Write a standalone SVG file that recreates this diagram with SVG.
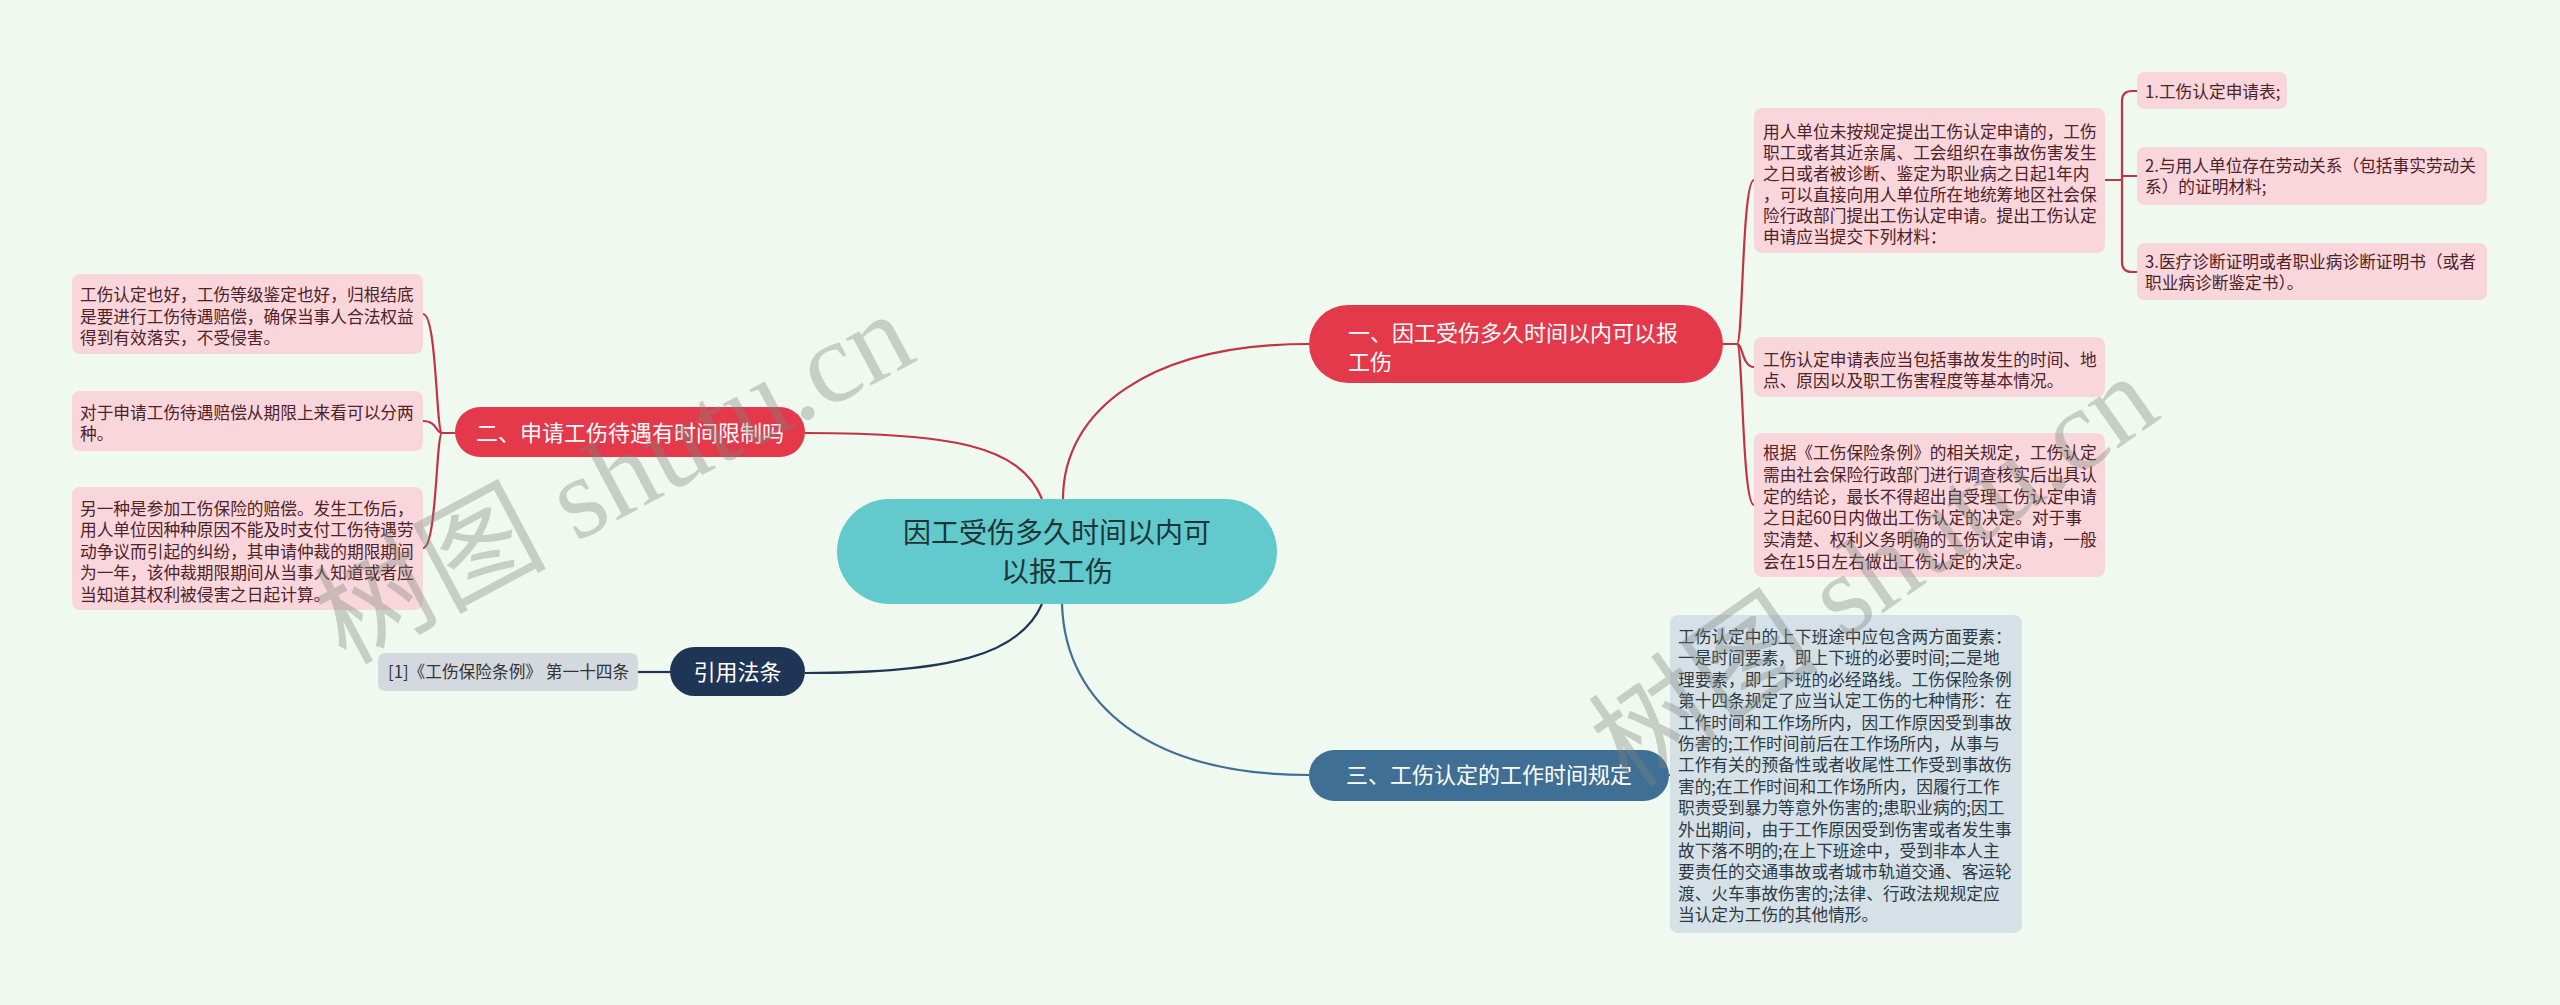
<svg xmlns="http://www.w3.org/2000/svg" width="2560" height="1005" viewBox="0 0 2560 1005">
<style>
text{font-family:"Noto Sans CJK SC","Noto Sans",sans-serif}
.leafP{fill:#f8d6dc}
.leafG{fill:#d6e0e7}
.leafR{fill:#d4d9e0}
.tP{font-size:16.7px;fill:#4e2227}
.tG{font-size:16.7px;fill:#2c3a44}
.tR{font-size:16.7px;fill:#333}
.nodeRed{fill:#e4394a}
.tN{font-size:22px;fill:#fff}
.cRed{fill:none;stroke:#c23443;stroke-width:2.2}
.cNavy{fill:none;stroke:#1f3556;stroke-width:2.2}
.cBlue{fill:none;stroke:#3f6f94;stroke-width:2.2}
.wm{font-family:"Liberation Serif","Noto Sans CJK SC",serif;font-size:116px;fill:#7d857d;opacity:0.36}
</style>
<rect width="2560" height="1005" fill="#f0f9ef"/>
<g id="connectors">
<path class="cRed" d="M1063,499 C1063,410 1150,344 1309,344"/>
<path class="cRed" d="M1042,499 C1020,445 950,433 805,433"/>
<path class="cNavy" d="M1042,604 C1020,655 950,673 805,673"/>
<path class="cBlue" d="M1062,604 C1065,705 1150,775 1309,775"/>
<path class="cRed" d="M1723,344 L1737,344 M1737,344 C1743,344 1742,180 1754,180 M1737,344 C1743,344 1742,367 1754,367 M1737,344 C1743,344 1742,505 1754,505"/>
<path class="cRed" d="M2105,180 L2122,180 M2122,180 V101 Q2122,91 2132,91 H2137 M2122,176 H2137 M2122,180 V262 Q2122,272 2132,272 H2137"/>
<path class="cRed" d="M455,433 L442,433 M442,433 C436,433 437,314 423,314 M442,433 C436,433 437,421 423,421 M442,433 C436,433 437,548 423,548"/>
<path class="cNavy" d="M638,672 L670,672"/>
<path class="cBlue" d="M1669,775 L1670,775"/>
</g>
<g id="central">
<rect x="837" y="499" width="440" height="105" rx="52.5" fill="#62c9cd"/>
<text text-anchor="middle" font-size="28" fill="#1d3535"><tspan x="1057" y="543">因工受伤多久时间以内可</tspan><tspan x="1057" y="582">以报工伤</tspan></text>
</g>
<g id="node1">
<rect class="nodeRed" x="1309" y="305" width="414" height="78" rx="39"/>
<text class="tN"><tspan x="1348" y="341">一、因工受伤多久时间以内可以报</tspan><tspan x="1348" y="370">工伤</tspan></text>
</g>
<g id="leaf1a">
<rect class="leafP" x="1754" y="108" width="351" height="145" rx="8"/>
<text class="tP"><tspan x="1763" y="138">用人单位未按规定提出工伤认定申请的，工伤</tspan><tspan x="1763" y="159">职工或者其近亲属、工会组织在事故伤害发生</tspan><tspan x="1763" y="180">之日或者被诊断、鉴定为职业病之日起1年内</tspan><tspan x="1763" y="201">，可以直接向用人单位所在地统筹地区社会保</tspan><tspan x="1763" y="222">险行政部门提出工伤认定申请。提出工伤认定</tspan><tspan x="1763" y="243">申请应当提交下列材料：</tspan></text>
</g>
<g id="leaf1a1">
<rect class="leafP" x="2137" y="72" width="150" height="37" rx="7"/>
<text class="tP" x="2145" y="98">1.工伤认定申请表;</text>
</g>
<g id="leaf1a2">
<rect class="leafP" x="2137" y="147" width="350" height="58" rx="7"/>
<text class="tP"><tspan x="2145" y="172">2.与用人单位存在劳动关系（包括事实劳动关</tspan><tspan x="2145" y="193">系）的证明材料;</tspan></text>
</g>
<g id="leaf1a3">
<rect class="leafP" x="2137" y="243" width="350" height="57" rx="7"/>
<text class="tP"><tspan x="2145" y="268">3.医疗诊断证明或者职业病诊断证明书（或者</tspan><tspan x="2145" y="289">职业病诊断鉴定书）。</tspan></text>
</g>
<g id="leaf1b">
<rect class="leafP" x="1754" y="337" width="351" height="60" rx="8"/>
<text class="tP"><tspan x="1763" y="366">工伤认定申请表应当包括事故发生的时间、地</tspan><tspan x="1763" y="387">点、原因以及职工伤害程度等基本情况。</tspan></text>
</g>
<g id="leaf1c">
<rect class="leafP" x="1754" y="433" width="351" height="144" rx="8"/>
<text class="tP"><tspan x="1763" y="459">根据《工伤保险条例》的相关规定，工伤认定</tspan><tspan x="1763" y="481">需由社会保险行政部门进行调查核实后出具认</tspan><tspan x="1763" y="503">定的结论，最长不得超出自受理工伤认定申请</tspan><tspan x="1763" y="524">之日起60日内做出工伤认定的决定。对于事</tspan><tspan x="1763" y="546">实清楚、权利义务明确的工伤认定申请，一般</tspan><tspan x="1763" y="568">会在15日左右做出工伤认定的决定。</tspan></text>
</g>
<g id="node2">
<rect class="nodeRed" x="455" y="407" width="350" height="50" rx="25"/>
<text class="tN" x="630" y="441" text-anchor="middle">二、申请工伤待遇有时间限制吗</text>
</g>
<g id="leaf2a">
<rect class="leafP" x="72" y="274" width="351" height="80" rx="8"/>
<text class="tP"><tspan x="80" y="301">工伤认定也好，工伤等级鉴定也好，归根结底</tspan><tspan x="80" y="323">是要进行工伤待遇赔偿，确保当事人合法权益</tspan><tspan x="80" y="344">得到有效落实，不受侵害。</tspan></text>
</g>
<g id="leaf2b">
<rect class="leafP" x="72" y="391" width="351" height="60" rx="8"/>
<text class="tP"><tspan x="80" y="419">对于申请工伤待遇赔偿从期限上来看可以分两</tspan><tspan x="80" y="440">种。</tspan></text>
</g>
<g id="leaf2c">
<rect class="leafP" x="72" y="487" width="351" height="123" rx="8"/>
<text class="tP"><tspan x="80" y="515">另一种是参加工伤保险的赔偿。发生工伤后，</tspan><tspan x="80" y="536">用人单位因种种原因不能及时支付工伤待遇劳</tspan><tspan x="80" y="558">动争议而引起的纠纷，其申请仲裁的期限期间</tspan><tspan x="80" y="579">为一年，该仲裁期限期间从当事人知道或者应</tspan><tspan x="80" y="601">当知道其权利被侵害之日起计算。</tspan></text>
</g>
<g id="node4">
<rect x="670" y="647" width="135" height="49" rx="24.5" fill="#1f3556"/>
<text class="tN" x="737.5" y="680" text-anchor="middle">引用法条</text>
</g>
<g id="leaf4">
<rect class="leafR" x="378" y="653" width="260" height="38" rx="7"/>
<text class="tR" x="388" y="678">[1]《工伤保险条例》 第一十四条</text>
</g>
<g id="node3">
<rect x="1309" y="750" width="360" height="51" rx="25.5" fill="#3f6f94"/>
<text class="tN" x="1489" y="783" text-anchor="middle">三、工伤认定的工作时间规定</text>
</g>
<g id="leaf3">
<rect class="leafG" x="1670" y="615" width="352" height="318" rx="8"/>
<text class="tG"><tspan x="1678" y="643">工伤认定中的上下班途中应包含两方面要素：</tspan><tspan x="1678" y="664.4">一是时间要素，即上下班的必要时间;二是地</tspan><tspan x="1678" y="685.8">理要素，即上下班的必经路线。工伤保险条例</tspan><tspan x="1678" y="707.2">第十四条规定了应当认定工伤的七种情形：在</tspan><tspan x="1678" y="728.6">工作时间和工作场所内，因工作原因受到事故</tspan><tspan x="1678" y="750">伤害的;工作时间前后在工作场所内，从事与</tspan><tspan x="1678" y="771.4">工作有关的预备性或者收尾性工作受到事故伤</tspan><tspan x="1678" y="792.8">害的;在工作时间和工作场所内，因履行工作</tspan><tspan x="1678" y="814.2">职责受到暴力等意外伤害的;患职业病的;因工</tspan><tspan x="1678" y="835.6">外出期间，由于工作原因受到伤害或者发生事</tspan><tspan x="1678" y="857">故下落不明的;在上下班途中，受到非本人主</tspan><tspan x="1678" y="878.4">要责任的交通事故或者城市轨道交通、客运轮</tspan><tspan x="1678" y="899.8">渡、火车事故伤害的;法律、行政法规规定应</tspan><tspan x="1678" y="921.2">当认定为工伤的其他情形。</tspan></text>
</g>
<text class="wm" transform="translate(345,665) rotate(-28)">树图 shutu.cn</text>
<text class="wm" transform="translate(1630,790) rotate(-35)">树图 shutu.cn</text>
</svg>
